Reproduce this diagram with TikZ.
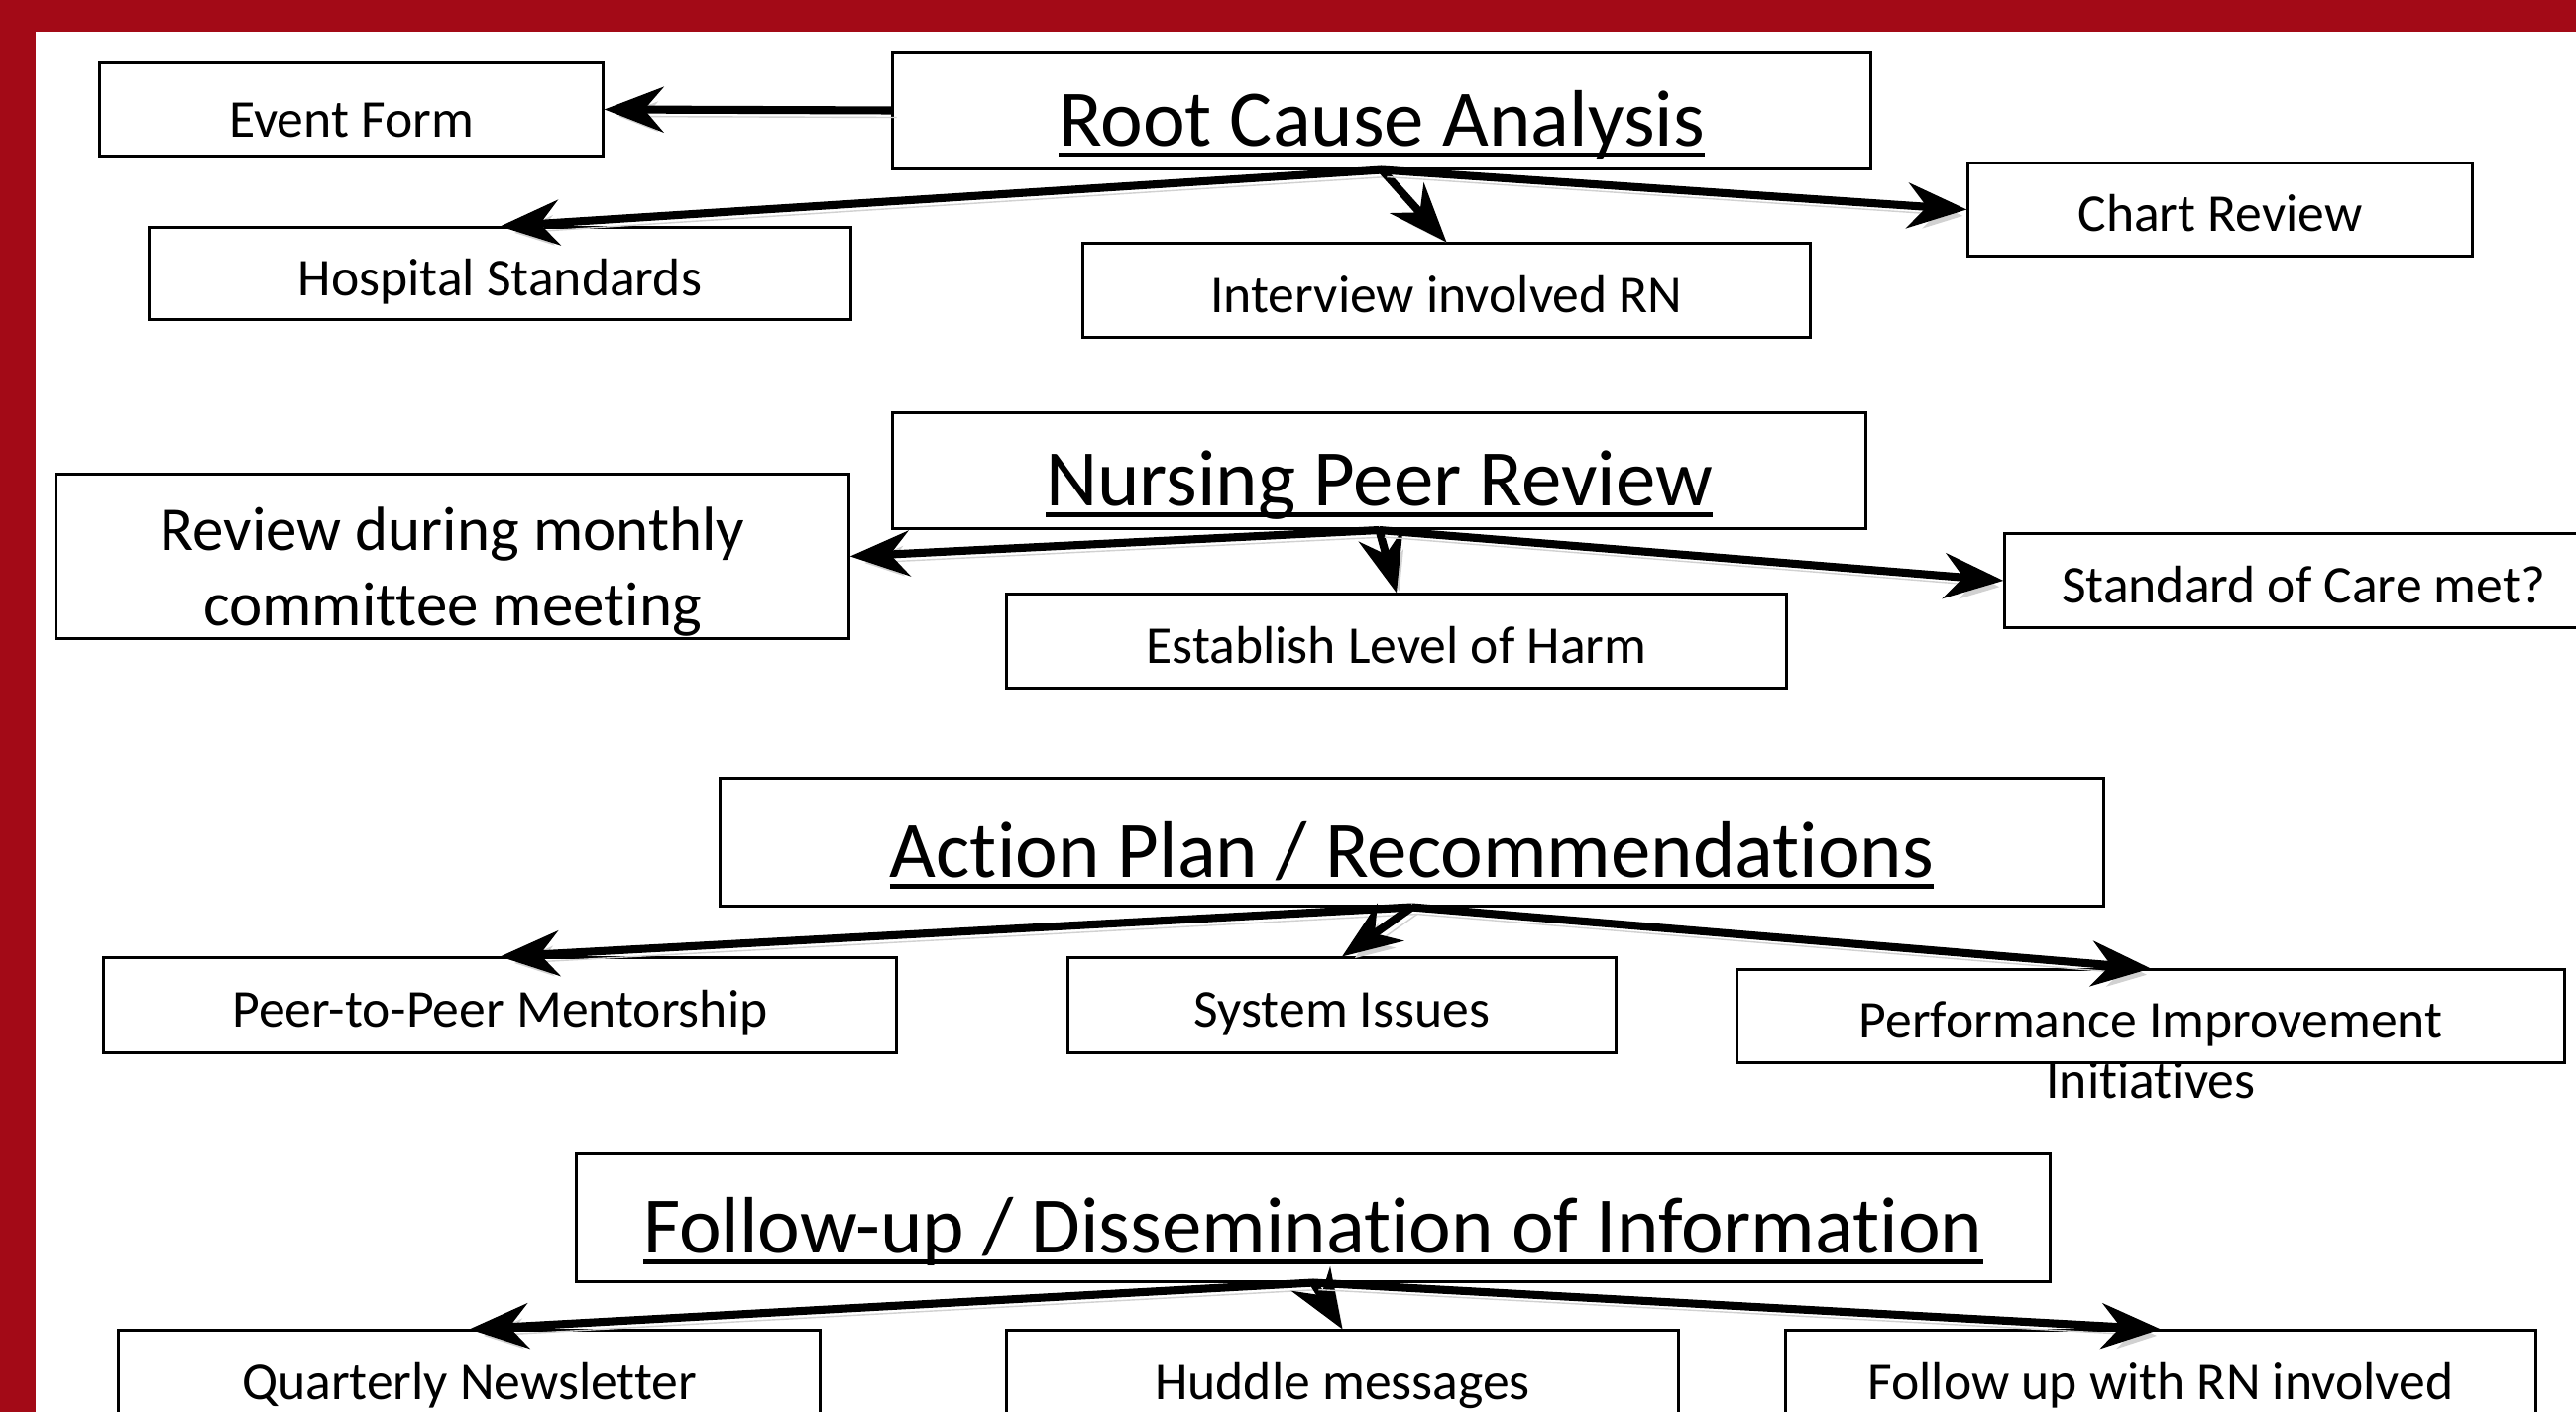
\documentclass[tikz,border=0pt]{standalone}
\usepackage{fontspec}
\setmainfont{Carlito}[Ligatures=NoCommon]
\usetikzlibrary{arrows.meta}
\definecolor{slidered}{RGB}{163,10,23}
\newcommand\titleline[1]{\setbox0\hbox{#1}\leavevmode\rlap{\rule[-3.2pt]{\wd0}{1.3pt}}\box0}
\begin{document}
\begin{tikzpicture}[x=0.01cm,y=-0.01cm,>={Stealth[length=17pt,width=13pt,inset=5.5pt]},
        box/.style={draw=black,line width=0.85pt,inner sep=0pt,font=\fontsize{15.25pt}{18.5pt}\selectfont,text height=0.58cm,text depth=0.14cm},
        title/.style={box,font=\fontsize{23pt}{27pt}\selectfont,text height=0.91cm,text depth=0.2cm},
        link/.style={->,line width=2.3pt,preaction={draw=black!18,transform canvas={xshift=1.5pt,yshift=-2pt}}}]
                \useasboundingbox (0,0) rectangle (2599,1425);
                \clip (0,0) rectangle (2599,1425);
                \fill[slidered] (0,0) rectangle (2599,1425);
                \fill[white] (36,32) rectangle (2599,1425);

                \node[title,minimum width=9.86cm,minimum height=1.17cm] (rca) at (1394,111.5) {\titleline{Root Cause Analysis}};
                \node[box,minimum width=5.07cm,minimum height=0.93cm,text height=0.69cm] (event) at (354.5,110.5) {Event Form};
                \node[box,minimum width=7.07cm,minimum height=0.92cm] (hosp) at (504.5,276) {Hospital Standards};
                \node[box,minimum width=7.33cm,minimum height=0.94cm] (interview) at (1459.5,293) {Interview involved RN};
                \node[box,minimum width=5.08cm,minimum height=0.93cm] (chart) at (2240,211.5) {Chart Review};

                \node[title,minimum width=9.81cm,minimum height=1.17cm] (npr) at (1391.5,475) {\titleline{Nursing Peer Review}};
                \node[box,minimum width=7.99cm,minimum height=1.65cm,font=\fontsize{17.9pt}{21.6pt}\selectfont,text height=0.5cm,text depth=0.61cm] (monthly) at (456.5,561.5) {\parbox[t]{7.9cm}{\centering Review during monthly\\committee meeting}};
                \node[box,minimum width=7.86cm,minimum height=0.94cm] (harm) at (1409,647) {Establish Level of Harm};
                \node[box,minimum width=6.02cm,minimum height=0.94cm] (care) at (2324,586) {Standard of Care met?};

                \node[title,minimum width=13.95cm,minimum height=1.28cm] (action) at (1424.5,850) {\titleline{Action Plan / Recommendations}};
                \node[box,minimum width=7.99cm,minimum height=0.95cm] (mentor) at (504.5,1014.5) {Peer-to-Peer Mentorship};
                \node[box,minimum width=5.52cm,minimum height=0.95cm] (system) at (1354,1014.5) {System Issues};
                \node[box,minimum width=8.34cm,minimum height=0.93cm] (perf) at (2170,1025.5) {Performance Improvement};
                \node[anchor=base,font=\fontsize{15.25pt}{18.5pt}\selectfont] (perfmore) at (2170,1109) {Initiatives};

                \node[title,minimum width=14.86cm,minimum height=1.28cm] (follow) at (1325,1229) {\titleline{Follow-up / Dissemination of Information}};
                \node[box,minimum width=7.07cm,minimum height=0.94cm] (news) at (473.5,1390) {Quarterly Newsletter};
                \node[box,minimum width=6.77cm,minimum height=0.94cm] (huddle) at (1354.5,1390) {Huddle messages};
                \node[box,minimum width=7.56cm,minimum height=0.94cm] (rnfollow) at (2180,1390) {Follow up with RN involved};

                \draw[link] (rca.west) -- (event.east);
                \draw[link] (rca.south) -- (hosp.north);
                \draw[link] (rca.south) -- (interview.north);
                \draw[link] (rca.south) -- (chart.west);

                \draw[link] (npr.south) -- (monthly.east);
                \draw[link] (npr.south) -- (harm.north);
                \draw[link] (npr.south) -- (care.west);

                \draw[link] (action.south) -- (mentor.north);
                \draw[link] (action.south) -- (system.north);
                \draw[link] (action.south) -- (perf.north);

                \draw[link] (follow.south) -- (news.north);
                \draw[link] (follow.south) -- (huddle.north);
                \draw[link] (follow.south) -- (rnfollow.north);
            \end{tikzpicture}
\end{document}
